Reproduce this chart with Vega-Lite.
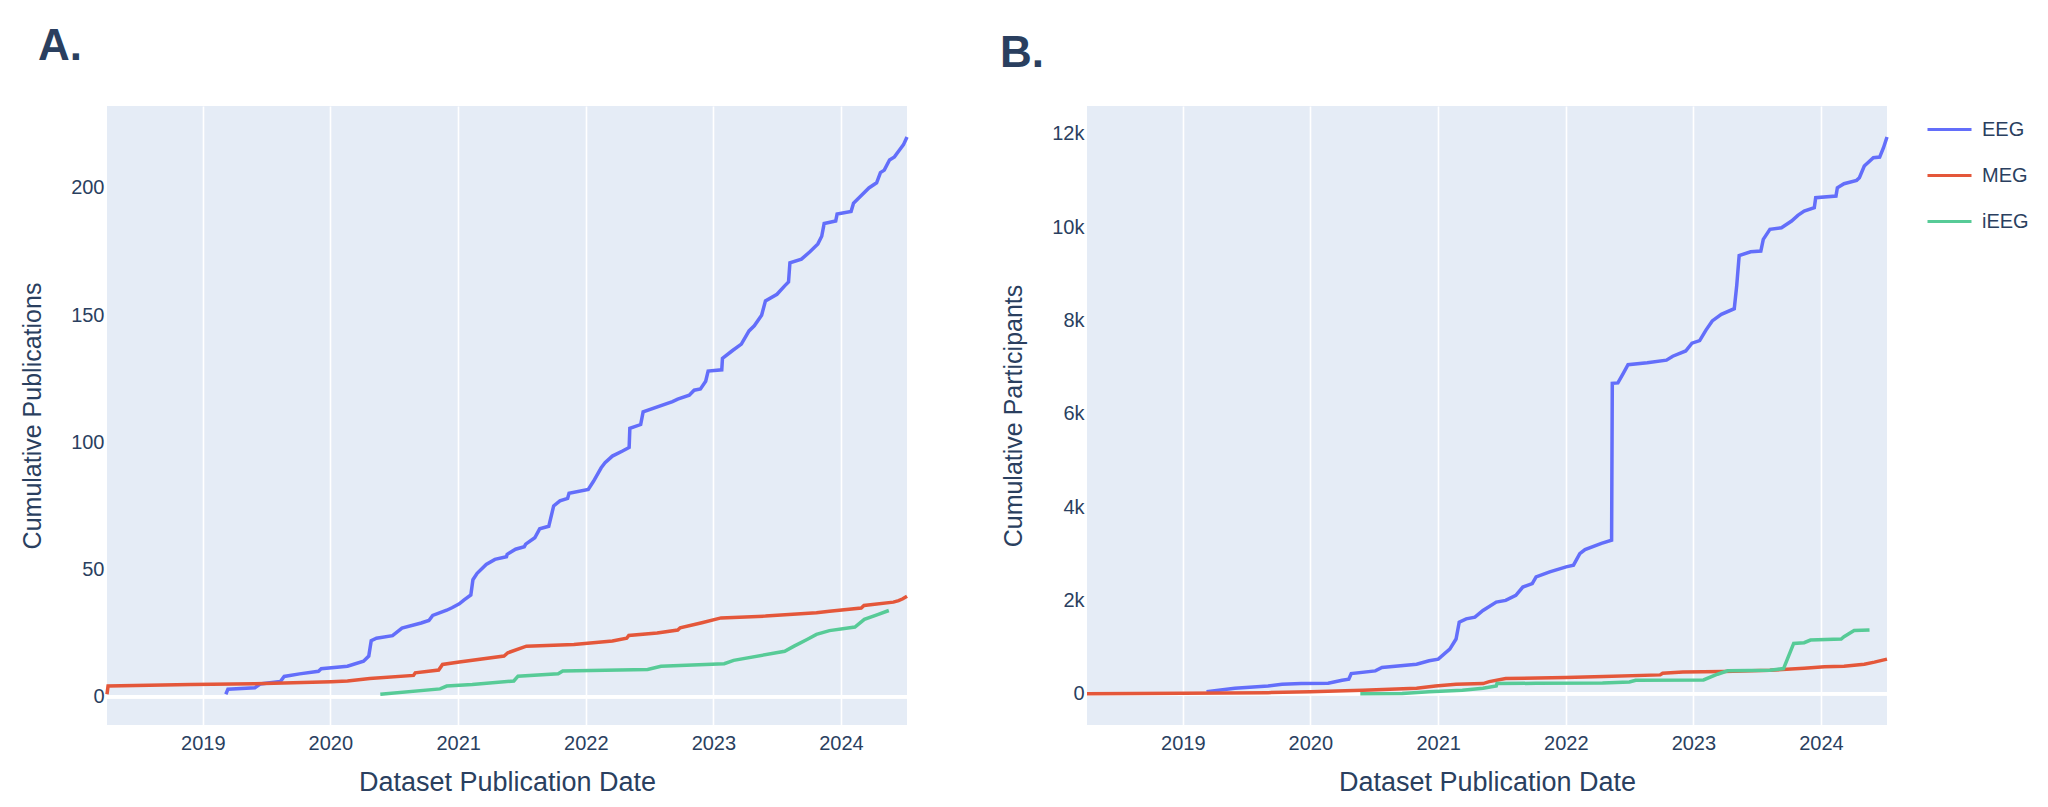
{
  "$schema": "https://vega.github.io/schema/vega-lite/v6.json",
  "background": "white",
  "padding": {"left": 20, "top": 25, "right": 5, "bottom": 0},
  "config": {
    "font": "Liberation Sans",
    "view": {"fill": "#E5ECF6", "stroke": null},
    "axis": {"domain": false, "ticks": false, "gridColor": "white", "gridWidth": 1.6, "labelColor": "#2a3f5f", "labelFontSize": 20, "titleColor": "#2a3f5f", "titleFontSize": 27, "titleFontWeight": "normal", "labelFont": "Liberation Sans", "titleFont": "Liberation Sans"},
    "axisY": {"labelPadding": 3, "titlePadding": 25, "titleFontSize": 25},
    "axisX": {"labelPadding": 8, "titlePadding": 16},
    "legend": {"orient": "right", "offset": 32, "title": null, "labelFontSize": 20, "labelColor": "#2a3f5f", "labelFont": "Liberation Sans", "symbolType": "stroke", "symbolSize": 1936, "symbolStrokeWidth": 3, "labelOffset": 9, "rowPadding": 12, "padding": 0}
  },
  "datasets": {
    "pubs": [
      {"date": "2019-03-08", "modality": "EEG", "value": 1},
      {"date": "2019-03-14", "modality": "EEG", "value": 3},
      {"date": "2019-05-30", "modality": "EEG", "value": 3.5},
      {"date": "2019-06-14", "modality": "EEG", "value": 5},
      {"date": "2019-08-11", "modality": "EEG", "value": 6},
      {"date": "2019-08-22", "modality": "EEG", "value": 8},
      {"date": "2019-10-05", "modality": "EEG", "value": 9},
      {"date": "2019-11-28", "modality": "EEG", "value": 10},
      {"date": "2019-12-06", "modality": "EEG", "value": 11},
      {"date": "2020-02-19", "modality": "EEG", "value": 12},
      {"date": "2020-04-05", "modality": "EEG", "value": 14},
      {"date": "2020-04-20", "modality": "EEG", "value": 16},
      {"date": "2020-04-27", "modality": "EEG", "value": 22},
      {"date": "2020-05-12", "modality": "EEG", "value": 23},
      {"date": "2020-06-27", "modality": "EEG", "value": 24},
      {"date": "2020-07-24", "modality": "EEG", "value": 27},
      {"date": "2020-09-17", "modality": "EEG", "value": 29},
      {"date": "2020-10-09", "modality": "EEG", "value": 30},
      {"date": "2020-10-20", "modality": "EEG", "value": 32},
      {"date": "2020-11-29", "modality": "EEG", "value": 34},
      {"date": "2020-12-14", "modality": "EEG", "value": 35},
      {"date": "2021-01-04", "modality": "EEG", "value": 36.5},
      {"date": "2021-01-17", "modality": "EEG", "value": 38},
      {"date": "2021-02-06", "modality": "EEG", "value": 40},
      {"date": "2021-02-12", "modality": "EEG", "value": 46},
      {"date": "2021-02-24", "modality": "EEG", "value": 48.5},
      {"date": "2021-03-22", "modality": "EEG", "value": 52},
      {"date": "2021-04-16", "modality": "EEG", "value": 54},
      {"date": "2021-05-19", "modality": "EEG", "value": 55},
      {"date": "2021-05-21", "modality": "EEG", "value": 56},
      {"date": "2021-06-14", "modality": "EEG", "value": 58},
      {"date": "2021-07-09", "modality": "EEG", "value": 59},
      {"date": "2021-07-13", "modality": "EEG", "value": 60},
      {"date": "2021-08-08", "modality": "EEG", "value": 62.5},
      {"date": "2021-08-22", "modality": "EEG", "value": 66},
      {"date": "2021-09-17", "modality": "EEG", "value": 67},
      {"date": "2021-10-01", "modality": "EEG", "value": 75},
      {"date": "2021-10-19", "modality": "EEG", "value": 77},
      {"date": "2021-11-10", "modality": "EEG", "value": 78},
      {"date": "2021-11-14", "modality": "EEG", "value": 80},
      {"date": "2022-01-08", "modality": "EEG", "value": 81.5},
      {"date": "2022-01-23", "modality": "EEG", "value": 84.7},
      {"date": "2022-02-14", "modality": "EEG", "value": 90},
      {"date": "2022-02-25", "modality": "EEG", "value": 92},
      {"date": "2022-03-18", "modality": "EEG", "value": 94.6},
      {"date": "2022-04-16", "modality": "EEG", "value": 96.6},
      {"date": "2022-05-05", "modality": "EEG", "value": 98},
      {"date": "2022-05-07", "modality": "EEG", "value": 105.5},
      {"date": "2022-06-07", "modality": "EEG", "value": 107},
      {"date": "2022-06-14", "modality": "EEG", "value": 112},
      {"date": "2022-09-06", "modality": "EEG", "value": 116},
      {"date": "2022-09-21", "modality": "EEG", "value": 117},
      {"date": "2022-10-24", "modality": "EEG", "value": 118.5},
      {"date": "2022-11-07", "modality": "EEG", "value": 120.5},
      {"date": "2022-11-25", "modality": "EEG", "value": 121},
      {"date": "2022-12-10", "modality": "EEG", "value": 124},
      {"date": "2022-12-17", "modality": "EEG", "value": 128},
      {"date": "2023-01-25", "modality": "EEG", "value": 128.5},
      {"date": "2023-01-27", "modality": "EEG", "value": 133},
      {"date": "2023-02-24", "modality": "EEG", "value": 136},
      {"date": "2023-03-22", "modality": "EEG", "value": 138.6},
      {"date": "2023-04-13", "modality": "EEG", "value": 143.8},
      {"date": "2023-04-28", "modality": "EEG", "value": 145.8},
      {"date": "2023-05-19", "modality": "EEG", "value": 150},
      {"date": "2023-05-30", "modality": "EEG", "value": 155.6},
      {"date": "2023-07-02", "modality": "EEG", "value": 158.2},
      {"date": "2023-07-24", "modality": "EEG", "value": 161.5},
      {"date": "2023-08-04", "modality": "EEG", "value": 163},
      {"date": "2023-08-08", "modality": "EEG", "value": 170.6},
      {"date": "2023-09-10", "modality": "EEG", "value": 172},
      {"date": "2023-10-05", "modality": "EEG", "value": 175},
      {"date": "2023-10-27", "modality": "EEG", "value": 178},
      {"date": "2023-11-07", "modality": "EEG", "value": 181},
      {"date": "2023-11-14", "modality": "EEG", "value": 186},
      {"date": "2023-12-17", "modality": "EEG", "value": 187},
      {"date": "2023-12-21", "modality": "EEG", "value": 189.7},
      {"date": "2024-01-30", "modality": "EEG", "value": 190.7},
      {"date": "2024-02-06", "modality": "EEG", "value": 194},
      {"date": "2024-02-21", "modality": "EEG", "value": 196},
      {"date": "2024-03-21", "modality": "EEG", "value": 200},
      {"date": "2024-04-12", "modality": "EEG", "value": 202},
      {"date": "2024-04-23", "modality": "EEG", "value": 206},
      {"date": "2024-05-04", "modality": "EEG", "value": 207},
      {"date": "2024-05-19", "modality": "EEG", "value": 211},
      {"date": "2024-06-02", "modality": "EEG", "value": 212.2},
      {"date": "2024-06-17", "modality": "EEG", "value": 215},
      {"date": "2024-06-28", "modality": "EEG", "value": 217},
      {"date": "2024-07-08", "modality": "EEG", "value": 220},
      {"date": "2018-04-02", "modality": "MEG", "value": 1},
      {"date": "2018-04-05", "modality": "MEG", "value": 4.2},
      {"date": "2018-11-28", "modality": "MEG", "value": 4.8},
      {"date": "2019-05-30", "modality": "MEG", "value": 5.1},
      {"date": "2020-01-04", "modality": "MEG", "value": 5.9},
      {"date": "2020-02-19", "modality": "MEG", "value": 6.2},
      {"date": "2020-04-23", "modality": "MEG", "value": 7.2},
      {"date": "2020-08-26", "modality": "MEG", "value": 8.4},
      {"date": "2020-08-31", "modality": "MEG", "value": 9.4},
      {"date": "2020-11-06", "modality": "MEG", "value": 10.5},
      {"date": "2020-11-17", "modality": "MEG", "value": 12.7},
      {"date": "2021-01-04", "modality": "MEG", "value": 13.7},
      {"date": "2021-05-12", "modality": "MEG", "value": 16},
      {"date": "2021-05-23", "modality": "MEG", "value": 17.3},
      {"date": "2021-07-15", "modality": "MEG", "value": 19.9},
      {"date": "2021-11-28", "modality": "MEG", "value": 20.5},
      {"date": "2022-03-18", "modality": "MEG", "value": 21.9},
      {"date": "2022-04-28", "modality": "MEG", "value": 23},
      {"date": "2022-05-04", "modality": "MEG", "value": 24.1},
      {"date": "2022-07-24", "modality": "MEG", "value": 25.1},
      {"date": "2022-09-21", "modality": "MEG", "value": 26.2},
      {"date": "2022-09-28", "modality": "MEG", "value": 27.1},
      {"date": "2022-11-29", "modality": "MEG", "value": 29.1},
      {"date": "2023-01-23", "modality": "MEG", "value": 31},
      {"date": "2023-05-30", "modality": "MEG", "value": 31.7},
      {"date": "2023-10-23", "modality": "MEG", "value": 33},
      {"date": "2023-11-29", "modality": "MEG", "value": 33.6},
      {"date": "2024-02-28", "modality": "MEG", "value": 34.9},
      {"date": "2024-03-07", "modality": "MEG", "value": 35.9},
      {"date": "2024-05-30", "modality": "MEG", "value": 37.2},
      {"date": "2024-06-14", "modality": "MEG", "value": 37.8},
      {"date": "2024-06-26", "modality": "MEG", "value": 38.5},
      {"date": "2024-07-08", "modality": "MEG", "value": 39.5},
      {"date": "2020-05-23", "modality": "iEEG", "value": 1},
      {"date": "2020-11-10", "modality": "iEEG", "value": 3.1},
      {"date": "2020-11-29", "modality": "iEEG", "value": 4.2},
      {"date": "2021-02-10", "modality": "iEEG", "value": 4.8},
      {"date": "2021-06-09", "modality": "iEEG", "value": 6.2},
      {"date": "2021-06-21", "modality": "iEEG", "value": 8.1},
      {"date": "2021-10-14", "modality": "iEEG", "value": 9},
      {"date": "2021-10-27", "modality": "iEEG", "value": 10.1},
      {"date": "2022-06-27", "modality": "iEEG", "value": 10.7},
      {"date": "2022-08-04", "modality": "iEEG", "value": 12},
      {"date": "2023-02-01", "modality": "iEEG", "value": 13},
      {"date": "2023-02-28", "modality": "iEEG", "value": 14.3},
      {"date": "2023-07-24", "modality": "iEEG", "value": 17.9},
      {"date": "2023-08-20", "modality": "iEEG", "value": 19.9},
      {"date": "2023-09-26", "modality": "iEEG", "value": 22.5},
      {"date": "2023-10-23", "modality": "iEEG", "value": 24.5},
      {"date": "2023-11-29", "modality": "iEEG", "value": 26},
      {"date": "2024-02-10", "modality": "iEEG", "value": 27.4},
      {"date": "2024-03-08", "modality": "iEEG", "value": 30.4},
      {"date": "2024-04-15", "modality": "iEEG", "value": 32.3},
      {"date": "2024-05-17", "modality": "iEEG", "value": 33.9}
    ],
    "parts": [
      {"date": "2019-03-10", "modality": "EEG", "value": 43},
      {"date": "2019-05-30", "modality": "EEG", "value": 115},
      {"date": "2019-09-02", "modality": "EEG", "value": 165},
      {"date": "2019-10-12", "modality": "EEG", "value": 200},
      {"date": "2019-12-06", "modality": "EEG", "value": 216},
      {"date": "2020-02-21", "modality": "EEG", "value": 223},
      {"date": "2020-04-01", "modality": "EEG", "value": 288},
      {"date": "2020-04-20", "modality": "EEG", "value": 309},
      {"date": "2020-04-27", "modality": "EEG", "value": 431},
      {"date": "2020-07-05", "modality": "EEG", "value": 489},
      {"date": "2020-07-24", "modality": "EEG", "value": 561},
      {"date": "2020-10-31", "modality": "EEG", "value": 633},
      {"date": "2020-12-06", "modality": "EEG", "value": 705},
      {"date": "2021-01-01", "modality": "EEG", "value": 740},
      {"date": "2021-02-03", "modality": "EEG", "value": 956},
      {"date": "2021-02-21", "modality": "EEG", "value": 1172},
      {"date": "2021-03-02", "modality": "EEG", "value": 1531},
      {"date": "2021-03-22", "modality": "EEG", "value": 1603},
      {"date": "2021-04-16", "modality": "EEG", "value": 1639},
      {"date": "2021-05-09", "modality": "EEG", "value": 1783},
      {"date": "2021-06-16", "modality": "EEG", "value": 1963},
      {"date": "2021-07-13", "modality": "EEG", "value": 1999},
      {"date": "2021-08-11", "modality": "EEG", "value": 2107},
      {"date": "2021-08-31", "modality": "EEG", "value": 2286},
      {"date": "2021-09-27", "modality": "EEG", "value": 2358},
      {"date": "2021-10-08", "modality": "EEG", "value": 2502},
      {"date": "2021-11-16", "modality": "EEG", "value": 2610},
      {"date": "2022-01-02", "modality": "EEG", "value": 2718},
      {"date": "2022-01-23", "modality": "EEG", "value": 2754},
      {"date": "2022-02-10", "modality": "EEG", "value": 3000},
      {"date": "2022-02-25", "modality": "EEG", "value": 3088},
      {"date": "2022-04-13", "modality": "EEG", "value": 3220},
      {"date": "2022-05-12", "modality": "EEG", "value": 3290},
      {"date": "2022-05-14", "modality": "EEG", "value": 6650},
      {"date": "2022-05-30", "modality": "EEG", "value": 6660},
      {"date": "2022-06-14", "modality": "EEG", "value": 6860},
      {"date": "2022-06-28", "modality": "EEG", "value": 7050},
      {"date": "2022-08-22", "modality": "EEG", "value": 7092},
      {"date": "2022-10-16", "modality": "EEG", "value": 7148},
      {"date": "2022-11-03", "modality": "EEG", "value": 7232},
      {"date": "2022-12-10", "modality": "EEG", "value": 7344},
      {"date": "2022-12-28", "modality": "EEG", "value": 7512},
      {"date": "2023-01-19", "modality": "EEG", "value": 7568},
      {"date": "2023-02-06", "modality": "EEG", "value": 7792},
      {"date": "2023-02-24", "modality": "EEG", "value": 7988},
      {"date": "2023-03-22", "modality": "EEG", "value": 8128},
      {"date": "2023-04-28", "modality": "EEG", "value": 8250},
      {"date": "2023-05-05", "modality": "EEG", "value": 8745},
      {"date": "2023-05-12", "modality": "EEG", "value": 9390},
      {"date": "2023-06-14", "modality": "EEG", "value": 9470},
      {"date": "2023-07-13", "modality": "EEG", "value": 9485},
      {"date": "2023-07-20", "modality": "EEG", "value": 9736},
      {"date": "2023-08-08", "modality": "EEG", "value": 9950},
      {"date": "2023-09-10", "modality": "EEG", "value": 9985},
      {"date": "2023-10-09", "modality": "EEG", "value": 10128},
      {"date": "2023-10-27", "modality": "EEG", "value": 10250},
      {"date": "2023-11-14", "modality": "EEG", "value": 10343},
      {"date": "2023-12-13", "modality": "EEG", "value": 10414},
      {"date": "2023-12-17", "modality": "EEG", "value": 10628},
      {"date": "2024-02-13", "modality": "EEG", "value": 10664},
      {"date": "2024-02-17", "modality": "EEG", "value": 10842},
      {"date": "2024-03-07", "modality": "EEG", "value": 10928},
      {"date": "2024-04-12", "modality": "EEG", "value": 11000},
      {"date": "2024-04-20", "modality": "EEG", "value": 11057},
      {"date": "2024-05-04", "modality": "EEG", "value": 11307},
      {"date": "2024-05-30", "modality": "EEG", "value": 11485},
      {"date": "2024-06-17", "modality": "EEG", "value": 11500},
      {"date": "2024-06-28", "modality": "EEG", "value": 11700},
      {"date": "2024-07-08", "modality": "EEG", "value": 11930},
      {"date": "2018-04-02", "modality": "MEG", "value": 0},
      {"date": "2019-01-01", "modality": "MEG", "value": 7},
      {"date": "2019-09-02", "modality": "MEG", "value": 22},
      {"date": "2020-01-01", "modality": "MEG", "value": 43},
      {"date": "2020-05-30", "modality": "MEG", "value": 72},
      {"date": "2020-10-31", "modality": "MEG", "value": 115},
      {"date": "2020-12-24", "modality": "MEG", "value": 165},
      {"date": "2021-02-21", "modality": "MEG", "value": 200},
      {"date": "2021-05-09", "modality": "MEG", "value": 216},
      {"date": "2021-05-27", "modality": "MEG", "value": 259},
      {"date": "2021-07-13", "modality": "MEG", "value": 324},
      {"date": "2022-01-01", "modality": "MEG", "value": 345},
      {"date": "2022-04-20", "modality": "MEG", "value": 367},
      {"date": "2022-09-28", "modality": "MEG", "value": 403},
      {"date": "2022-10-05", "modality": "MEG", "value": 439},
      {"date": "2022-12-02", "modality": "MEG", "value": 467},
      {"date": "2023-03-29", "modality": "MEG", "value": 475},
      {"date": "2023-08-08", "modality": "MEG", "value": 503},
      {"date": "2023-11-14", "modality": "MEG", "value": 546},
      {"date": "2024-01-11", "modality": "MEG", "value": 575},
      {"date": "2024-03-07", "modality": "MEG", "value": 590},
      {"date": "2024-05-04", "modality": "MEG", "value": 633},
      {"date": "2024-06-02", "modality": "MEG", "value": 676},
      {"date": "2024-07-08", "modality": "MEG", "value": 740},
      {"date": "2020-05-23", "modality": "iEEG", "value": 0},
      {"date": "2020-09-20", "modality": "iEEG", "value": 5},
      {"date": "2020-12-06", "modality": "iEEG", "value": 43},
      {"date": "2021-03-11", "modality": "iEEG", "value": 72},
      {"date": "2021-05-09", "modality": "iEEG", "value": 115},
      {"date": "2021-06-16", "modality": "iEEG", "value": 165},
      {"date": "2021-06-18", "modality": "iEEG", "value": 216},
      {"date": "2021-10-08", "modality": "iEEG", "value": 223},
      {"date": "2022-04-16", "modality": "iEEG", "value": 230},
      {"date": "2022-07-02", "modality": "iEEG", "value": 252},
      {"date": "2022-07-20", "modality": "iEEG", "value": 288},
      {"date": "2023-01-30", "modality": "iEEG", "value": 295},
      {"date": "2023-03-11", "modality": "iEEG", "value": 417},
      {"date": "2023-04-09", "modality": "iEEG", "value": 489},
      {"date": "2023-08-08", "modality": "iEEG", "value": 503},
      {"date": "2023-09-16", "modality": "iEEG", "value": 539},
      {"date": "2023-10-15", "modality": "iEEG", "value": 1078},
      {"date": "2023-11-14", "modality": "iEEG", "value": 1093},
      {"date": "2023-12-02", "modality": "iEEG", "value": 1150},
      {"date": "2024-02-28", "modality": "iEEG", "value": 1172},
      {"date": "2024-03-07", "modality": "iEEG", "value": 1222},
      {"date": "2024-04-05", "modality": "iEEG", "value": 1352},
      {"date": "2024-05-19", "modality": "iEEG", "value": 1366}
    ]
  },
  "spacing": 180,
  "bounds": "flush",
  "hconcat": [
    {
      "width": 800,
      "height": 619,
      "data": {"name": "pubs"},
      "title": {"text": "A.", "anchor": "start", "frame": "group", "dx": -69, "offset": 2, "baseline": "alphabetic", "fontSize": 44, "fontWeight": "bold", "color": "#2a3f5f", "font": "Liberation Sans"},
      "layer": [
        {"mark": {"type": "rule", "color": "white", "strokeWidth": 3}, "encoding": {"y": {"datum": 0, "type": "quantitative"}}},
        {
          "mark": {"type": "line", "strokeWidth": 3.5},
          "encoding": {
            "x": {"field": "date", "type": "temporal", "title": "Dataset Publication Date",
              "scale": {"type": "utc", "domain": [{"year": 2018, "month": 4, "date": 2, "utc": true}, {"year": 2024, "month": 7, "date": 8, "utc": true}], "nice": false},
              "axis": {"format": "%Y", "values": [{"year": 2019, "utc": true}, {"year": 2020, "utc": true}, {"year": 2021, "utc": true}, {"year": 2022, "utc": true}, {"year": 2023, "utc": true}, {"year": 2024, "utc": true}]}},
            "y": {"field": "value", "type": "quantitative", "title": "Cumulative Publications",
              "scale": {"domain": [-11.1, 232.2], "nice": false, "zero": false},
              "axis": {"values": [0, 50, 100, 150, 200]}},
            "color": {"field": "modality", "type": "nominal", "scale": {"domain": ["EEG", "MEG", "iEEG"], "range": ["#636efa", "#E4573A", "#57CB97"]}}
          }
        }
      ]
    },
    {
      "width": 800,
      "height": 619,
      "data": {"name": "parts"},
      "title": {"text": "B.", "anchor": "start", "frame": "group", "dx": -87, "offset": -5, "baseline": "alphabetic", "fontSize": 44, "fontWeight": "bold", "color": "#2a3f5f", "font": "Liberation Sans"},
      "layer": [
        {"mark": {"type": "rule", "color": "white", "strokeWidth": 3}, "encoding": {"y": {"datum": 0, "type": "quantitative"}}},
        {
          "mark": {"type": "line", "strokeWidth": 3.5},
          "encoding": {
            "x": {"field": "date", "type": "temporal", "title": "Dataset Publication Date",
              "scale": {"type": "utc", "domain": [{"year": 2018, "month": 4, "date": 2, "utc": true}, {"year": 2024, "month": 7, "date": 8, "utc": true}], "nice": false},
              "axis": {"format": "%Y", "values": [{"year": 2019, "utc": true}, {"year": 2020, "utc": true}, {"year": 2021, "utc": true}, {"year": 2022, "utc": true}, {"year": 2023, "utc": true}, {"year": 2024, "utc": true}]}},
            "y": {"field": "value", "type": "quantitative", "title": "Cumulative Participants",
              "scale": {"domain": [-671, 12594], "nice": false, "zero": false},
              "axis": {"values": [0, 2000, 4000, 6000, 8000, 10000, 12000], "labelExpr": "datum.value == 0 ? '0' : format(datum.value / 1000, 'd') + 'k'"}},
            "color": {"field": "modality", "type": "nominal", "scale": {"domain": ["EEG", "MEG", "iEEG"], "range": ["#636efa", "#E4573A", "#57CB97"]}}
          }
        }
      ]
    }
  ]
}
